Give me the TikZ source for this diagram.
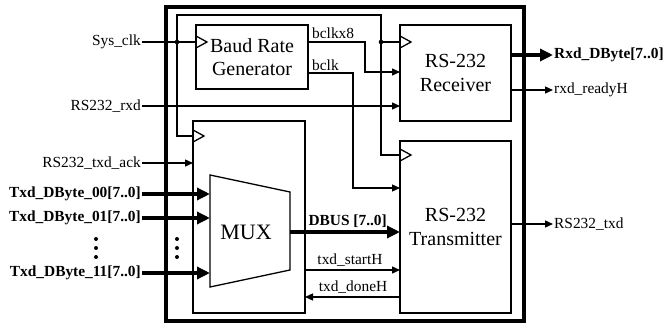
\documentclass[tikz,border=0pt]{standalone}
\usepackage{fontspec}
\setmainfont{Liberation Serif}
\usetikzlibrary{arrows.meta}
\newcommand\boxfont{\fontsize{20}{23.5}\selectfont}
\newcommand\muxfont{\fontsize{22}{24}\selectfont}
\newcommand\lblfont{\fontsize{15.4}{17}\selectfont}
\begin{document}
\begin{tikzpicture}[x=1pt,y=-1pt,
  wire/.style={line width=1.3pt},
  box/.style={draw, line width=1.3pt, outer sep=0pt, inner sep=0pt, align=center, font=\boxfont},
  lbl/.style={inner sep=1pt, font=\lblfont},
  blbl/.style={inner sep=1pt, font=\lblfont\bfseries},
  sig/.style={line width=1.3pt, -{Triangle[length=8pt,width=7pt]}},
  bus/.style={line width=3.5pt, -{Triangle[length=13pt,width=12pt]}},
  clk/.pic={\draw[line width=1.3pt] (0,-6) -- (11,0) -- (0,6);}
]
\useasboundingbox (0,0) rectangle (665,326);

% outer module
\node[draw, line width=3.5pt, minimum width=358, minimum height=314, outer sep=0pt] (outer) at (345,164) {};

% blocks
\node[box, minimum width=112, minimum height=64] (brg) at (252,57) {Baud Rate\\Generator};
\node[box, minimum width=111, minimum height=96] (rx) at (455.5,73) {RS-232\\Receiver};
\node[box, minimum width=111, minimum height=172] (tx) at (455.5,227) {RS-232\\Transmitter};
\node[box, minimum width=112, minimum height=192] (mb) at (249,217) {};

% clock triangles
\pic at (196,42) {clk};
\pic at (400,42) {clk};
\pic at (400,155) {clk};
\pic at (193,136) {clk};

% coordinates
\coordinate (j1) at (177,42);
\coordinate (j2) at (381,42);
\coordinate (ctl) at (177,15);
\coordinate (ctr) at (381,155);
\coordinate (mbclk) at (193,136);
\coordinate (txclk) at (400,155);
\coordinate (rxclk) at (400,42);
\coordinate (b8o) at (308,42);
\coordinate (b8t) at (365,72);
\coordinate (rxb) at (400,72);
\coordinate (b1o) at (308,73);
\coordinate (b1t) at (353,188);
\coordinate (txb) at (400,188);
\coordinate (muxL) at (210,232);
\coordinate (muxR) at (290,232);
\coordinate (st) at (305,270);
\coordinate (dn) at (305,297);

% clock net
\node[lbl, anchor=east] (sysclk) at (142,42) {Sys\_clk};
\draw[wire] (sysclk.east) -- (brg.west |- j1);
\draw[wire] (mbclk) -| (ctl) -| (ctr) -- (txclk);
\draw[wire] (j2) -- (rxclk);
\fill (j1) circle (2.3pt);
\fill (j2) circle (2.3pt);

% baud clocks
\draw[sig] (b8o) -| (b8t) -- (rxb);
\draw[sig] (b1o) -| (b1t) -- (txb);
\node[lbl, anchor=base west] (lb8) at (311,39) {bclkx8};
\node[lbl, anchor=base west] (lb1) at (311,71) {bclk};

% receiver
\node[lbl, anchor=east] (rxd) at (142,106) {RS232\_rxd};
\draw[sig] (rxd.east) -- (rx.west |- rxd);
\node[blbl, anchor=west] (rxdout) at (553,55) {Rxd\_DByte[7..0]};
\draw[bus] (rx.east |- rxdout) -- (rxdout.west);
\node[lbl, anchor=west] (rdy) at (553,90) {rxd\_readyH};
\draw[sig] (rx.east |- rdy) -- (rdy.west);

% mux side
\node[lbl, anchor=east] (ack) at (142,163) {RS232\_txd\_ack};
\draw[sig] (ack.east) -- (mb.west |- ack);
\node[blbl, anchor=east] (in0) at (142,194) {Txd\_DByte\_00[7..0]};
\node[blbl, anchor=east] (in1) at (142,218) {Txd\_DByte\_01[7..0]};
\node[blbl, anchor=east] (in3) at (142,273) {Txd\_DByte\_11[7..0]};
\draw[bus] (in0.east) -- (muxL |- in0);
\draw[bus] (in1.east) -- (muxL |- in1);
\draw[bus] (in3.east) -- (muxL |- in3);
\foreach \yy in {239,248,257} {
  \fill (96,\yy) circle (2pt);
  \fill (177,\yy) circle (2pt);
}

\draw[wire, line join=miter] (210,175) -- (290,192) -- (290,270) -- (210,287) -- cycle;
\node[font=\muxfont, inner sep=0pt] (muxt) at (246,232) {MUX};

% transmitter
\draw[bus] (muxR) -- (tx.west |- muxR);
\node[blbl, anchor=base east] (dbus) at (388,226) {DBUS [7..0]};
\draw[sig] (st) -- (tx.west |- st);
\node[lbl, anchor=base] (lst) at (350,265) {txd\_startH};
\draw[sig] (tx.west |- dn) -- (dn);
\node[lbl, anchor=base] (ldn) at (353,292) {txd\_doneH};
\node[lbl, anchor=west] (txdout) at (553,224) {RS232\_txd};
\draw[sig] (tx.east |- txdout) -- (txdout.west);
\end{tikzpicture}
\end{document}
